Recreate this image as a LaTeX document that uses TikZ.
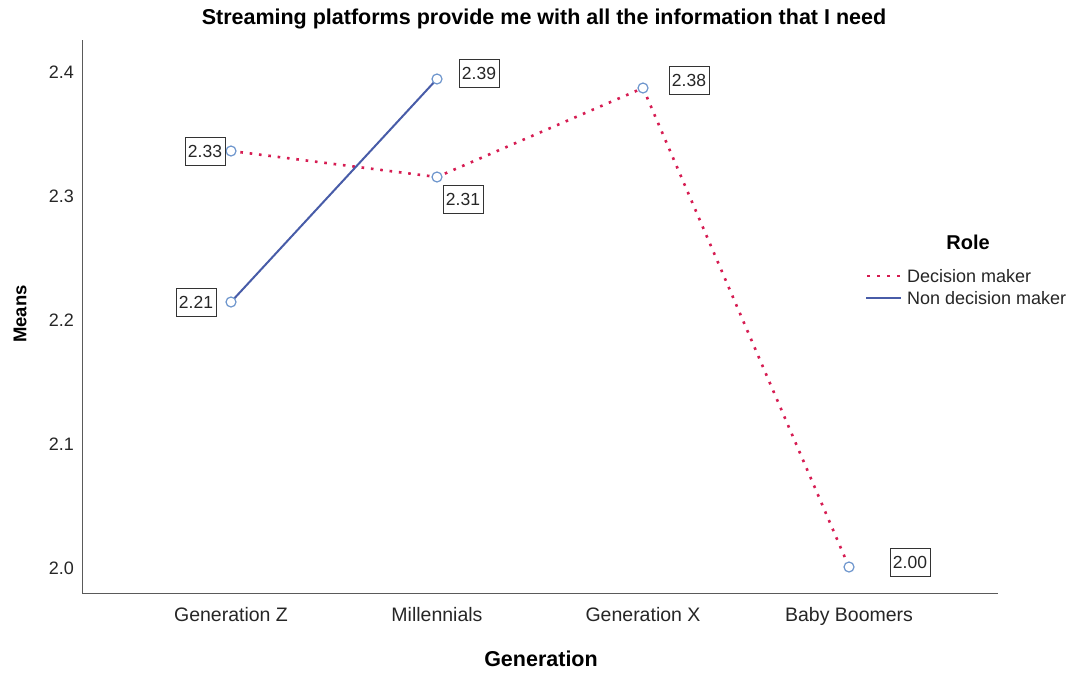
\documentclass[tikz,border=0pt]{standalone}
\usepackage{fontspec}
\setmainfont{Liberation Sans}
\definecolor{dmred}{RGB}{214,28,82}
\definecolor{ndblue}{RGB}{72,92,168}
\definecolor{mkblue}{RGB}{110,150,205}
\definecolor{axisgray}{RGB}{90,90,90}
\begin{document}
\begin{tikzpicture}[x=1pt,y=-1pt,
  axisline/.style={draw=axisgray,line width=0.9pt},
  ticklab/.style={font=\fontsize{18}{18}\selectfont,text=black!85,inner sep=0pt},
  catlab/.style={font=\fontsize{19.5}{20}\selectfont,text=black!85,inner sep=0pt,anchor=base},
  dmline/.style={draw=dmred,line width=2.6pt,dash pattern=on 2.6pt off 6.8pt},
  ndline/.style={draw=ndblue,line width=2pt},
  marker/.style={circle,draw=mkblue,line width=1.2pt,minimum size=10pt,inner sep=0pt,fill=white},
  vallab/.style={draw=black!80,line width=1pt,inner sep=0pt,minimum width=40pt,minimum height=28pt,font=\fontsize{17.5}{18}\selectfont,text=black!85},
  legtext/.style={font=\fontsize{18}{18}\selectfont,anchor=west,inner sep=0pt,text=black!85}
]
\useasboundingbox (0,0) rectangle (1073,675);
\fill[white] (0,0) rectangle (1073,675);

% title
\node[font=\bfseries\fontsize{21.5}{22}\selectfont,inner sep=0pt] (title) at (544,19) {Streaming platforms provide me with all the information that I need};

% axes
\coordinate (origin) at (82,593);
\coordinate (ytop) at (82,40);
\coordinate (xend) at (998,593);
\draw[axisline] (ytop) -- (origin) -- (xend);

% y tick labels
\node[ticklab,anchor=east] (t24) at (74,72) {2.4};
\node[ticklab,anchor=east] (t23) at (74,196) {2.3};
\node[ticklab,anchor=east] (t22) at (74,320) {2.2};
\node[ticklab,anchor=east] (t21) at (74,444) {2.1};
\node[ticklab,anchor=east] (t20) at (74,568) {2.0};

% category labels (aligned on a common baseline)
\node[catlab] (cz) at (231,621) {Generation Z};
\node[catlab] (cm) at (437,621) {Millennials};
\node[catlab] (cx) at (643,621) {Generation X};
\node[catlab] (cb) at (849,621) {Baby Boomers};

% axis titles
\node[font=\bfseries\fontsize{21.5}{22}\selectfont,inner sep=0pt] (xt) at (541,659) {Generation};
\node[font=\bfseries\fontsize{18.5}{19}\selectfont,inner sep=0pt,rotate=90] (yt) at (20,314) {Means};

% data points
\coordinate (dz) at (231,151);
\coordinate (dm) at (437,177);
\coordinate (dx) at (643,88);
\coordinate (db) at (849,567);
\coordinate (nz) at (231,302);
\coordinate (nm) at (437,79);

% series lines
\draw[dmline] (dz) -- (dm) -- (dx) -- (db);
\draw[ndline] (nz) -- (nm);

% markers
\foreach \p in {dz,dm,dx,db,nz,nm} \node[marker] at (\p) {};

% value labels
\node[vallab] (lz1) at (205,151) {2.33};
\node[vallab] (lm1) at (463,199) {2.31};
\node[vallab] (lx1) at (689,80) {2.38};
\node[vallab] (lb1) at (910,562) {2.00};
\node[vallab] (lz2) at (196,302) {2.21};
\node[vallab] (lm2) at (479,73) {2.39};

% legend
\node[font=\bfseries\fontsize{20}{20}\selectfont,inner sep=0pt] (legtitle) at (968,242) {Role};
\coordinate (la1) at (867,276);
\coordinate (la2) at (901,276);
\coordinate (lb1c) at (866,298);
\coordinate (lb2c) at (901,298);
\draw[dmline,dash pattern=on 2.6pt off 7.5pt] (la1) -- (la2);
\draw[ndline] (lb1c) -- (lb2c);
\node[legtext] (leg1) at (907,276) {Decision maker};
\node[legtext] (leg2) at (907,298) {Non decision maker};
\end{tikzpicture}
\end{document}
